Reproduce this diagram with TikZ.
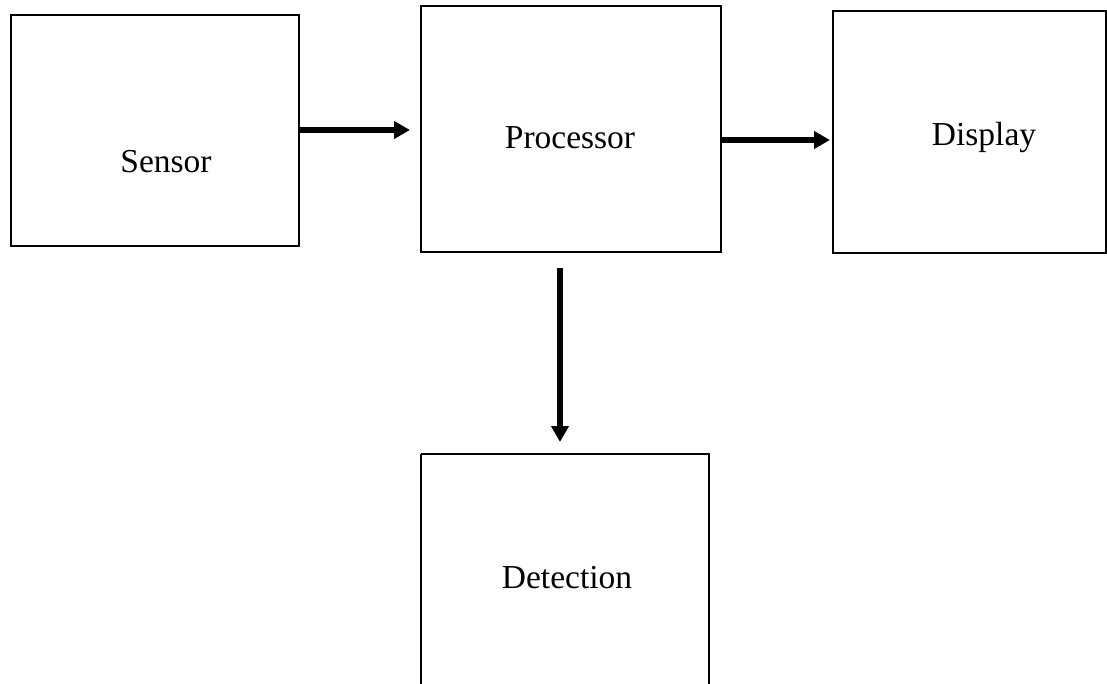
\documentclass[tikz,border=0pt]{standalone}
\usepackage{fontspec}
\setmainfont{Liberation Serif}
\usetikzlibrary{arrows.meta}
\begin{document}
\begin{tikzpicture}[x=1pt,y=-1pt,
  blockbox/.style={draw=black,line width=1.5pt,fill=white},
  label/.style={font=\fontsize{33.5}{40}\selectfont,inner sep=0pt},
  flow/.style={line width=5.5pt,-{Triangle[length=16pt,width=17pt]}}]
\useasboundingbox (0,0) rectangle (1107,684);
\draw[blockbox] (11,15) rectangle (299,246);
\draw[blockbox] (421,6) rectangle (721,252);
\draw[blockbox] (833,11) rectangle (1106,253);
\draw[blockbox] (421,454) -- (421,690) (709,690) -- (709,454) -- (421,454);
\coordinate (sR) at (299,130);
\coordinate (pL) at (421,130);
\coordinate (pR) at (721,140);
\coordinate (dL) at (833,140);
\coordinate (pB) at (560,268);
\coordinate (tT) at (560,442);
\node[label] (sensor) at (166,162) {Sensor};
\node[label] (processor) at (570,138) {Processor};
\node[label] (display) at (984,137) {Display};
\node[label] (detection) at (567,578) {Detection};
\draw[flow] (sR) -- ([xshift=-11pt]pL);
\draw[flow] (pR) -- ([xshift=-3pt]dL);
\draw[flow] (pB) -- (tT);
\end{tikzpicture}
\end{document}
